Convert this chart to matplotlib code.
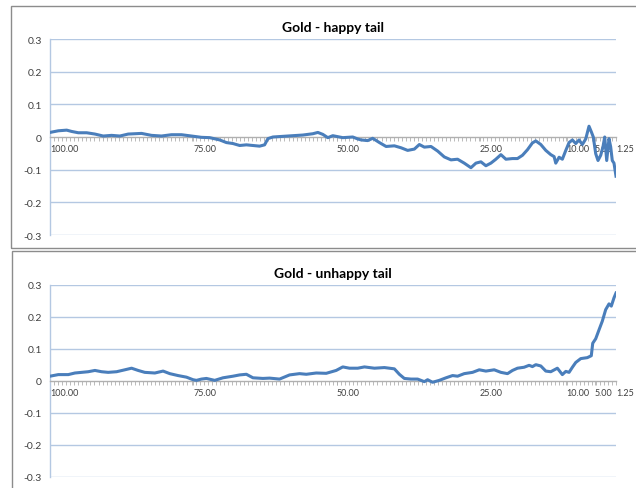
import numpy as np
import matplotlib
matplotlib.use("Agg")
import matplotlib.pyplot as plt
from matplotlib.patches import Rectangle

# ---------------- data ----------------
happy_q = [100.0, 98.55, 97.09, 96.22, 95.07, 93.61, 92.16, 90.72, 89.25, 87.81,
           86.36, 84.03, 82.29, 80.55, 78.81, 77.06, 75.32, 73.58, 72.14, 70.39,
           69.23, 68.08, 66.91, 65.74, 64.59, 63.43, 62.56, 61.98, 61.11, 59.37,
           57.63, 55.89, 54.14, 53.27, 52.40, 51.53, 50.66, 48.92, 47.18, 46.31,
           45.72, 44.57, 43.70, 42.53, 41.36, 39.92, 38.75, 37.60, 36.43, 35.56,
           34.69, 33.53, 32.37, 31.21, 30.04, 28.89, 27.73, 26.56, 25.69, 24.82,
           23.95, 23.08, 22.21, 21.33, 20.46, 19.31, 18.44, 17.57, 16.70, 15.83,
           15.24, 14.37, 13.50, 12.63, 12.05, 11.76, 11.18, 10.61, 10.01, 9.44,
           8.86, 8.27, 7.70, 7.12, 6.53, 5.96, 5.56, 5.21, 4.79, 4.39,
           3.92, 3.52, 3.22, 2.87, 2.47, 2.18, 1.90, 1.60, 1.25]
happy_v = [0.014, 0.019, 0.021, 0.017, 0.013, 0.013, 0.009, 0.003, 0.005, 0.003,
           0.009, 0.011, 0.005, 0.003, 0.007, 0.007, 0.003, -0.001, -0.002, -0.009,
           -0.017, -0.020, -0.026, -0.024, -0.026, -0.028, -0.024, -0.005, 0.000, 0.002,
           0.004, 0.006, 0.010, 0.014, 0.008, -0.002, 0.004, -0.002, 0.000, -0.006,
           -0.009, -0.011, -0.004, -0.017, -0.029, -0.027, -0.033, -0.041, -0.037, -0.023,
           -0.031, -0.029, -0.043, -0.061, -0.070, -0.068, -0.080, -0.094, -0.080, -0.076,
           -0.088, -0.080, -0.068, -0.054, -0.068, -0.066, -0.066, -0.056, -0.039, -0.018,
           -0.012, -0.023, -0.041, -0.054, -0.060, -0.080, -0.062, -0.068, -0.041, -0.017,
           -0.009, -0.020, -0.009, -0.023, -0.006, 0.033, 0.016, 0.000, -0.051, -0.072,
           -0.056, -0.030, 0.000, -0.072, -0.005, -0.030, -0.072, -0.080, -0.120]

unhappy_q = [100.0, 98.55, 96.81, 95.65, 94.48, 93.33, 92.16, 91.00, 89.85, 88.38,
             86.94, 85.77, 84.62, 83.46, 81.71, 80.27, 79.10, 77.66, 76.19, 75.04,
             74.45, 73.58, 72.71, 71.26, 69.82, 68.08, 66.91, 65.74, 64.59, 62.85,
             61.69, 59.95, 58.20, 56.46, 55.29, 53.55, 51.81, 50.07, 48.92, 47.75,
             46.31, 45.14, 43.40, 41.66, 39.92, 39.05, 38.18, 37.01, 35.86, 34.69,
             34.12, 33.25, 32.08, 30.91, 29.76, 28.89, 27.73, 26.28, 25.11, 23.95,
             22.50, 21.33, 20.18, 19.31, 18.44, 17.28, 16.41, 15.83, 15.24, 14.37,
             13.50, 12.63, 11.48, 10.61, 10.01, 9.44, 8.86, 8.27, 7.40, 6.25,
             5.56, 5.31, 4.79, 4.21, 3.64, 3.05, 2.47, 2.07, 1.60, 1.25]
unhappy_v = [0.015, 0.020, 0.020, 0.025, 0.027, 0.029, 0.033, 0.029, 0.027, 0.029,
             0.035, 0.040, 0.033, 0.027, 0.025, 0.031, 0.023, 0.017, 0.012, 0.004,
             0.002, 0.006, 0.008, 0.002, 0.010, 0.015, 0.019, 0.021, 0.010, 0.008,
             0.009, 0.006, 0.019, 0.023, 0.021, 0.025, 0.024, 0.033, 0.044, 0.040,
             0.040, 0.044, 0.040, 0.042, 0.038, 0.021, 0.008, 0.006, 0.006, -0.002,
             0.004, -0.004, 0.002, 0.010, 0.017, 0.015, 0.023, 0.027, 0.035, 0.031,
             0.035, 0.027, 0.023, 0.033, 0.040, 0.043, 0.049, 0.045, 0.051, 0.047,
             0.031, 0.029, 0.040, 0.020, 0.030, 0.027, 0.043, 0.058, 0.070, 0.073,
             0.079, 0.118, 0.132, 0.160, 0.187, 0.223, 0.241, 0.234, 0.260, 0.275]

titles = ["Gold - happy tail", "Gold - unhappy tail"]
x_labels = ["100.00", "75.00", "50.00", "25.00", "10.00", "5.00", "1.25"]
x_label_pos = [100.0, 75.0, 50.0, 25.0, 10.0, 5.0, 1.25]
y_ticks = [-0.3, -0.2, -0.1, 0, 0.1, 0.2, 0.3]
y_labels = ["-0.3", "-0.2", "-0.1", "0", "0.1", "0.2", "0.3"]

# ---------------- figure ----------------
W, H = 636, 489
fig = plt.figure(figsize=(W / 100, H / 100), dpi=100)
fig.patch.set_facecolor("white")

FONT = ["Lato", "DejaVu Sans"]
LINE_C = "#4a7ebb"
GRID_C = "#b4c8e2"
AXIS_C = "#b0b0b0"
TEXT_C = "#404040"

def px(x0, y0, x1, y1):
    return [x0 / W, 1 - y1 / H, (x1 - x0) / W, (y1 - y0) / H]

# chart frames
fig.patches.append(Rectangle((11 / W, 1 - 249 / H), 700 / W, 242 / H,
                             transform=fig.transFigure, fill=False,
                             edgecolor="#8c8c8c", lw=1.0))
fig.patches.append(Rectangle((12 / W, -0.05), 700 / W, 1 - 252 / H + 0.05,
                             transform=fig.transFigure, fill=False,
                             edgecolor="#8c8c8c", lw=1.0))

panels = [
    (px(50, 40, 616, 236), happy_q, happy_v, titles[0], 28),
    (px(50, 286, 616, 478), unhappy_q, unhappy_v, titles[1], 274),
]

minor_pos = np.linspace(100.0, 1.25, 141)

for rect, q, v, title, ty in panels:
    ax = fig.add_axes(rect)
    ax.set_facecolor("none")
    ax.set_xlim(100.0, 1.25)
    ax.set_ylim(-0.3, 0.3)
    for yt in y_ticks:
        if yt != 0:
            ax.axhline(yt, color=GRID_C, lw=1.0, zorder=1)
    ax.plot(q, v, color=LINE_C, lw=2.2, zorder=3, solid_joinstyle="round")

    for s in ["top", "right"]:
        ax.spines[s].set_visible(False)
    ax.spines["left"].set_color(GRID_C)
    ax.spines["left"].set_linewidth(1.0)
    ax.spines["bottom"].set_position(("data", 0))
    ax.spines["bottom"].set_color(AXIS_C)
    ax.spines["bottom"].set_linewidth(1.0)

    ax.set_yticks(y_ticks)
    ax.set_yticklabels(y_labels, fontsize=7.5, color=TEXT_C, family=FONT)
    ax.tick_params(axis="y", length=0, pad=6)

    ax.set_xticks(x_label_pos)
    ax.set_xticklabels(x_labels, fontsize=6.5, color=TEXT_C, family=FONT, ha="left")
    ax.set_xticks(minor_pos, minor=True)
    ax.tick_params(axis="x", which="both", length=3, width=0.6, color=AXIS_C,
                   direction="out", pad=2)

    fig.text(333 / W, 1 - ty / H, title, ha="center", va="center",
             fontsize=10, fontweight="bold", family=FONT, color="#000000")

fig.savefig("out.png", dpi=100)
